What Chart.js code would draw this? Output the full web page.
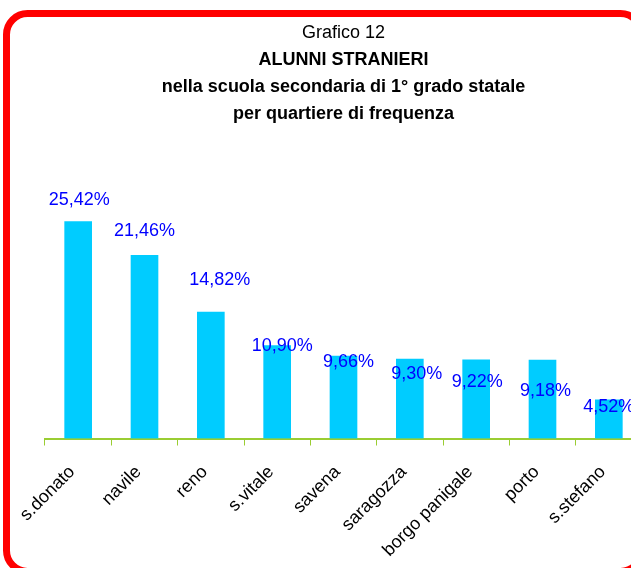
<!DOCTYPE html>
<html>
<head>
<meta charset="utf-8">
<script src="https://cdn.jsdelivr.net/npm/chart.js@4"></script>
<style>
  html, body { margin: 0; padding: 0; background: #fff; overflow: hidden; }
  #wrap { position: absolute; left: 0; top: 0; width: 650px; height: 580px; }
</style>
</head>
<body>
<div id="wrap"><canvas id="grafico" width="650" height="580"></canvas></div>
<script>
const quartieri = ['s.donato', 'navile', 'reno', 's.vitale', 'savena', 'saragozza', 'borgo panigale', 'porto', 's.stefano'];
const percentuali = [25.42, 21.46, 14.82, 10.90, 9.66, 9.30, 9.22, 9.18, 4.52];
const titolo = 'Grafico 12';
const sottotitolo = ['ALUNNI STRANIERI', 'nella scuola secondaria di 1° grado statale', 'per quartiere di frequenza'];

// labels in the original were nudged by hand, so keep their offsets (px from bar top)
const labelDx = [1, 0, 9, 5, 5, 7, 1, 3, 0];
const labelDy = [-22, -24, -32, 1, 6, 15, 22, 31, 7];

const font = "'Liberation Sans', Arial, sans-serif";

const cornice = {
    id: 'cornice',
    afterDraw(chart) {
        const ctx = chart.ctx;
        ctx.save();
        ctx.strokeStyle = '#ff0000';
        ctx.lineWidth = 7;
        ctx.beginPath();
        ctx.roundRect(6.5, 13.5, 635, 558, 21);
        ctx.stroke();
        ctx.restore();
    }
};

const etichette = {
    id: 'etichette',
    afterDatasetsDraw(chart) {
        const ctx = chart.ctx;
        const meta = chart.getDatasetMeta(0);
        ctx.save();
        ctx.fillStyle = '#0000ff';
        ctx.font = '18px ' + font;
        ctx.textAlign = 'center';
        ctx.textBaseline = 'middle';
        meta.data.forEach((bar, i) => {
            const txt = percentuali[i].toFixed(2).replace('.', ',') + '%';
            ctx.fillText(txt, bar.x + labelDx[i], bar.y + labelDy[i]);
        });
        ctx.restore();
    }
};

new Chart(document.getElementById('grafico'), {
    type: 'bar',
    data: {
        labels: quartieri,
        datasets: [{
            data: percentuali,
            backgroundColor: '#00ccff',
            borderWidth: 0,
            barThickness: 27
        }]
    },
    options: {
        responsive: false,
        animation: false,
        devicePixelRatio: 1,
        layout: {
            padding: { left: 45, right: 8, top: 0, bottom: 3 }
        },
        plugins: {
            legend: { display: false },
            tooltip: { enabled: false },
            title: {
                display: true,
                text: titolo,
                color: '#000',
                font: { family: font, size: 18, weight: 'normal', lineHeight: 1.2 },
                padding: { top: 22, bottom: 3 }
            },
            subtitle: {
                display: true,
                text: sottotitolo,
                color: '#000',
                font: { family: font, size: 18, weight: 'bold', lineHeight: 1.5 },
                padding: { top: 0, bottom: 55 }
            }
        },
        scales: {
            x: {
                grid: {
                    display: true,
                    drawOnChartArea: false,
                    offset: true,
                    color: '#9acd32',
                    tickLength: 7
                },
                border: { color: '#9acd32', width: 2 },
                ticks: {
                    color: '#000',
                    font: { family: font, size: 18 },
                    minRotation: 45,
                    maxRotation: 45,
                    autoSkip: false,
                    padding: 16,
                    labelOffset: -6
                }
            },
            y: {
                display: false,
                min: 0,
                max: 30
            }
        }
    },
    plugins: [cornice, etichette]
});
</script>
</body>
</html>
